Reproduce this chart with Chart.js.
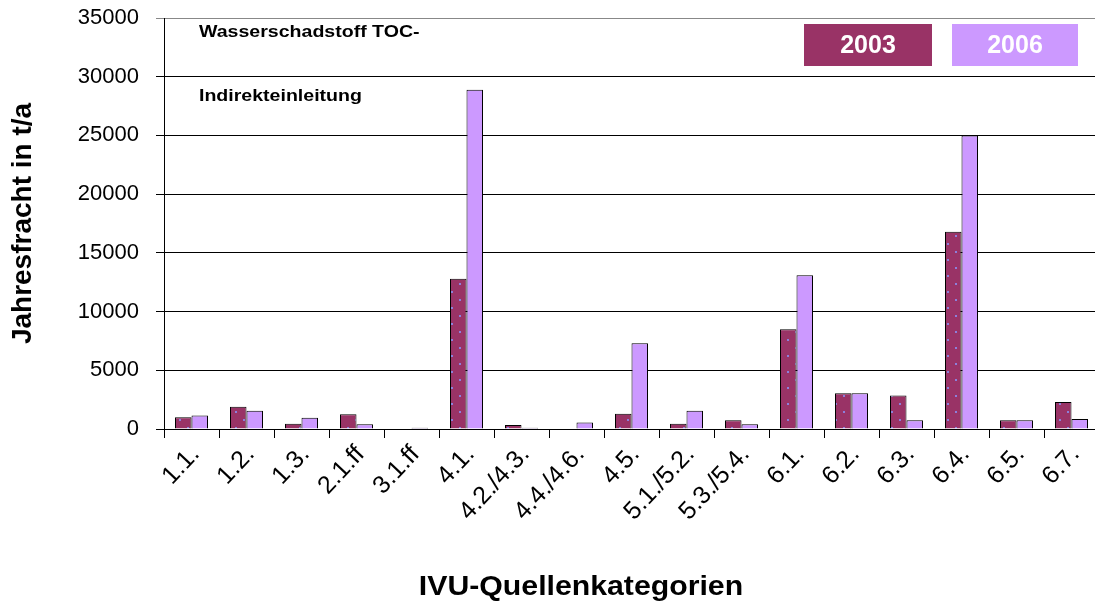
<!DOCTYPE html>
<html>
<head>
<meta charset="utf-8">
<title>Jahresfracht TOC Indirekteinleitung</title>
<script src="https://cdn.jsdelivr.net/npm/chart.js@4.4.1/dist/chart.umd.min.js"></script>
<style>
    html, body { margin: 0; padding: 0; background: #fff; overflow: hidden; }
    canvas { display: block; }
</style>
</head>
<body>
<canvas id="chart" width="1100" height="605"></canvas>
<script>
// Daten
const categories = ['1.1.', '1.2.', '1.3.', '2.1.ff', '3.1.ff', '4.1.', '4.2./4.3.', '4.4./4.6.', '4.5.',
    '5.1./5.2.', '5.3./5.4.', '6.1.', '6.2.', '6.3.', '6.4.', '6.5.', '6.7.'];
const years = ['2003', '2006'];
const values2003 = [1000, 1900, 450, 1250, 0, 12800, 350, 0, 1300, 450, 750, 8500, 3050, 2850, 16800, 750, 2300];
const values2006 = [1150, 1550, 950, 400, 100, 28900, 100, 550, 7300, 1550, 400, 13100, 3050, 750, 25000, 750, 850];
const yMax = 35000;
const yStep = 5000;

const titleLines = ['Wasserschadstoff TOC-', 'Indirekteinleitung'];
const yTitle = 'Jahresfracht in t/a';
const xTitle = 'IVU-Quellenkategorien';

const color2003 = '#993366';
const color2006 = '#cc99ff';
const FONT = '"Liberation Sans", Arial, Helvetica, sans-serif';

// Punktmuster für 2003
function dotPattern(base, dot) {
    const c = document.createElement('canvas');
    c.width = 16;
    c.height = 16;
    const g = c.getContext('2d');
    g.fillStyle = base;
    g.fillRect(0, 0, 16, 16);
    g.fillStyle = dot;
    g.fillRect(3, 3, 2, 2);
    g.fillRect(11, 11, 2, 2);
    return g.createPattern(c, 'repeat');
}

// Text etwas breiter zeichnen (das Original ist horizontal gestreckt)
function wideText(ctx, text, x, y, sx) {
    ctx.save();
    ctx.translate(x, y);
    ctx.scale(sx, 1);
    ctx.fillText(text, 0, 0);
    ctx.restore();
}

// Titel im Diagramm, Legende als Kästen, x-Achsentitel
const overlay = {
    id: 'overlay',
    afterDraw(chart) {
        const { ctx, chartArea: a } = chart;
        ctx.save();
        ctx.fillStyle = '#000';
        ctx.font = `bold 17px ${FONT}`;
        ctx.textAlign = 'left';
        ctx.textBaseline = 'alphabetic';
        wideText(ctx, titleLines[0], a.left + 35, a.top + 19, 1.15);
        wideText(ctx, titleLines[1], a.left + 35, a.top + 83, 1.15);

        // Legende
        const boxes = [
            { x: a.right - 295, w: 128, color: color2003 },
            { x: a.right - 147, w: 126, color: color2006 }
        ];
        ctx.font = `bold 25px ${FONT}`;
        ctx.textAlign = 'center';
        ctx.textBaseline = 'middle';
        boxes.forEach((b, i) => {
            ctx.fillStyle = b.color;
            ctx.fillRect(b.x, a.top + 6, b.w, 42);
            ctx.fillStyle = '#fff';
            ctx.fillText(years[i], b.x + b.w / 2, a.top + 28);
        });

        // x-Achsentitel
        ctx.fillStyle = '#000';
        ctx.font = `bold 27px ${FONT}`;
        ctx.textAlign = 'center';
        ctx.textBaseline = 'middle';
        wideText(ctx, xTitle, 581, 588, 1.12);
        ctx.restore();
    }
};

window.addEventListener('DOMContentLoaded', () => {
    const canvas = document.getElementById('chart');
    const ctx = canvas.getContext('2d');
    new Chart(ctx, {
        type: 'bar',
        data: {
            labels: categories,
            datasets: [{
                label: years[0],
                data: values2003,
                backgroundColor: dotPattern(color2003, '#8c80dc'),
                borderColor: '#000',
                borderWidth: 1,
                borderSkipped: 'bottom'
            }, {
                label: years[1],
                data: values2006,
                backgroundColor: color2006,
                borderColor: '#000',
                borderWidth: 1,
                borderSkipped: 'bottom'
            }]
        },
        options: {
            responsive: false,
            devicePixelRatio: 1,
            animation: false,
            layout: { padding: { top: 18, right: 1, left: 0, bottom: 0 } },
            datasets: { bar: { categoryPercentage: 0.6, barPercentage: 1.0 } },
            plugins: {
                legend: { display: false },
                tooltip: { enabled: false }
            },
            scales: {
                x: {
                    afterFit(scale) {
                        scale.height = 176;
                        scale.paddingLeft = 0;
                        scale.paddingRight = 0;
                    },
                    grid: { drawOnChartArea: false, drawTicks: true, tickLength: 9, color: '#000', offset: true },
                    border: { color: '#000' },
                    ticks: {
                        color: '#000',
                        font: { family: FONT, size: 25 },
                        autoSkip: false,
                        minRotation: 47,
                        maxRotation: 47,
                        padding: 2,
                        labelOffset: 4
                    },
                    title: { display: false }
                },
                y: {
                    min: 0,
                    max: yMax,
                    afterFit(scale) {
                        scale.width = 164;
                        scale.paddingTop = 0;
                        scale.paddingBottom = 0;
                    },
                    ticks: {
                        stepSize: yStep,
                        color: '#000',
                        font: { family: FONT, size: 22 },
                        padding: 17,
                        callback: (v) => String(v)
                    },
                    grid: {
                        color: (c) => (c.tick && c.tick.value === yMax) ? '#888' : '#000',
                        tickLength: 8
                    },
                    border: { color: '#000' },
                    title: {
                        display: true,
                        text: yTitle,
                        color: '#000',
                        font: { family: FONT, size: 28, weight: 'bold' },
                        padding: { top: 6, bottom: 0 }
                    }
                }
            }
        },
        plugins: [overlay]
    });
});
</script>
</body>
</html>
